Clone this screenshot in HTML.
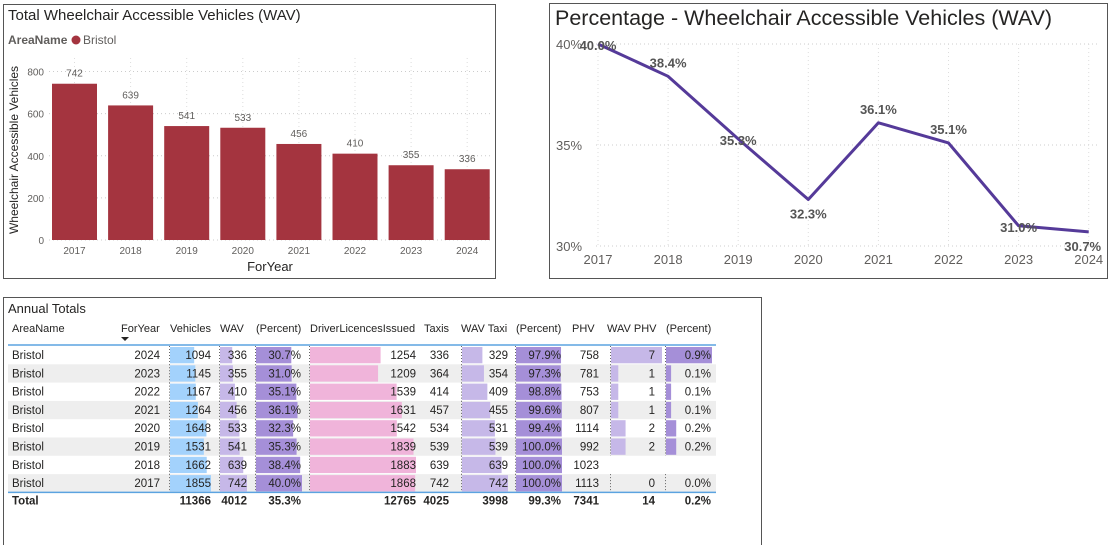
<!DOCTYPE html>
<html><head><meta charset="utf-8"><style>
html,body{margin:0;padding:0;background:#fff;}
svg{display:block;font-family:"Liberation Sans",sans-serif;}
</style></head><body>
<svg id="s" width="1111" height="545" viewBox="0 0 1111 545">
<rect x="3.5" y="4.5" width="492" height="274" fill="#fff" stroke="#555"/>
<text x="8" y="20" font-size="15" fill="#252423">Total Wheelchair Accessible Vehicles (WAV)</text>
<text x="8" y="44" font-size="12" font-weight="bold" fill="#605e5c">AreaName</text>
<circle cx="76" cy="40" r="4.5" fill="#a4343f"/>
<text x="83" y="44" font-size="12" fill="#605e5c">Bristol</text>
<text transform="translate(18,150) rotate(-90)" text-anchor="middle" font-size="12" fill="#252423">Wheelchair Accessible Vehicles</text>
<text x="270" y="271" text-anchor="middle" font-size="13" fill="#252423">ForYear</text>
<g id="bars"></g>
<rect x="549.5" y="3.5" width="558" height="275" fill="none" stroke="#555"/>
<text x="555" y="25" font-size="21.5" fill="#252423">Percentage - Wheelchair Accessible Vehicles (WAV)</text>
<g id="line"></g>
<rect x="3.5" y="297.5" width="758" height="260" fill="none" stroke="#555"/>
<text x="8" y="313" font-size="13" fill="#252423">Annual Totals</text>
<g id="table"></g>
</svg>
<script>
const NS="http://www.w3.org/2000/svg";
function mk(p,t,a,txt){const e=document.createElementNS(NS,t);for(const k in a)e.setAttribute(k,a[k]);if(txt!=null)e.textContent=txt;p.appendChild(e);return e;}
// ---- bar chart data
const years=["2017","2018","2019","2020","2021","2022","2023","2024"];
const wavTotals=[742,639,541,533,456,410,355,336];
const barTicks=[0,200,400,600,800];
const bg=document.getElementById('bars');
const by=v=>240-v*0.2106, bx=i=>74.5+i*56.1;
barTicks.forEach(t=>{
 const g=mk(bg,'line',{x1:49,x2:493,y1:by(t),y2:by(t),stroke:'#ccc','stroke-dasharray':'1 3'});
 
 
 const l=mk(bg,'text',{x:44,y:by(t)+4,'text-anchor':'end','font-size':10,fill:'#605e5c'},t);
 
 
});
years.forEach((y,i)=>{
 const gl=mk(bg,'line',{x1:bx(i),x2:bx(i),y1:58,y2:240,stroke:'#ddd','stroke-dasharray':'1 3'});
 
 
 const r=mk(bg,'rect',{x:bx(i)-22.5,y:by(wavTotals[i]),width:45,height:240-by(wavTotals[i]),fill:'#a4343f'});
 
 
 const v=mk(bg,'text',{x:bx(i),y:by(wavTotals[i])-7,'text-anchor':'middle','font-size':10,fill:'#605e5c'},wavTotals[i]);
 
 
 const xl=mk(bg,'text',{x:bx(i),y:254,'text-anchor':'middle','font-size':10,fill:'#605e5c'},y);
 
 
});
// ---- line chart data
const pctValues=[40.0,38.4,35.3,32.3,36.1,35.1,31.0,30.7];
const pctLabels=["40.0%","38.4%","35.3%","32.3%","36.1%","35.1%","31.0%","30.7%"];
const labelPos=["c","a","c","b","a","a","c","b"];
const pctTicks=[40,35,30];
const lg=document.getElementById('line');
const ly=v=>44+(40-v)*20.2, lx=i=>598+i*70.1;
pctTicks.forEach(t=>{
 const g=mk(lg,'line',{x1:596,x2:1100,y1:ly(t),y2:ly(t),stroke:'#ccc','stroke-dasharray':'1 3'});
 
 
 const l=mk(lg,'text',{x:556,y:ly(t)+5,'font-size':13,fill:'#605e5c'},t+'%');
 
 
});
years.forEach((y,i)=>{
 const g=mk(lg,'line',{x1:lx(i),x2:lx(i),y1:44,y2:248,stroke:'#ddd','stroke-dasharray':'1 3'});
 
 
 const xl=mk(lg,'text',{x:lx(i),y:264,'text-anchor':'middle','font-size':13,fill:'#605e5c'},y);
 
 
});
const pl=mk(lg,'polyline',{points:pctValues.map((v,i)=>lx(i)+','+ly(v)).join(' '),fill:'none',stroke:'#553a99','stroke-width':3,'stroke-linejoin':'round'});


pctValues.forEach((v,i)=>{
 const off=labelPos[i]==='a'?-9:labelPos[i]==='b'?19:6;
 const t=mk(lg,'text',{x:lx(i)+(i==7?-6:0),y:ly(v)+off,'text-anchor':'middle','font-size':13,'font-weight':'bold',fill:'#555'},pctLabels[i]);
 
 
});
// ---- table data
const tYears=[2024,2023,2022,2021,2020,2019,2018,2017];
const vehicles=[1094,1145,1167,1264,1648,1531,1662,1855];
const wav=[336,355,410,456,533,541,639,742];
const wavPct=[30.7,31.0,35.1,36.1,32.3,35.3,38.4,40.0];
const licences=[1254,1209,1539,1631,1542,1839,1883,1868];
const taxis=[336,364,414,457,534,539,639,742];
const wavTaxi=[329,354,409,455,531,539,639,742];
const taxiPct=[97.9,97.3,98.8,99.6,99.4,100.0,100.0,100.0];
const phv=[758,781,753,807,1114,992,1023,1113];
const wavPhv=[7,1,1,1,2,2,null,0];
const phvPct=[0.9,0.1,0.1,0.1,0.2,0.2,null,0.0];
const totals=["Total","","11366","4012","35.3%","12765","4025","3998","99.3%","7341","14","0.2%"];
const headers=["AreaName","ForYear","Vehicles","WAV","(Percent)","DriverLicencesIssued","Taxis","WAV Taxi","(Percent)","PHV","WAV PHV","(Percent)"];
const tg=document.getElementById('table');
const cols=[
 {x:12,a:'start',hx:12},
 {x:160,a:'end',hx:121},
 {x:211,a:'end',hx:170,b:170,w:41,m:1855,c:'#a3d2fc',d:vehicles},
 {x:247,a:'end',hx:220,b:220,w:27,m:742,c:'#c6b8e8',d:wav},
 {x:301,a:'end',hx:256,b:256,w:46,m:40,c:'#a58fd8',d:wavPct,p:1},
 {x:416,a:'end',hx:310,b:310,w:106,m:1883,c:'#f0b4da',d:licences},
 {x:449,a:'end',hx:424,d:taxis},
 {x:508,a:'end',hx:461,b:462,w:46,m:742,c:'#c6b8e8',d:wavTaxi},
 {x:561,a:'end',hx:516,b:516,w:46,m:100,c:'#a58fd8',d:taxiPct,p:1},
 {x:599,a:'end',hx:572,d:phv},
 {x:655,a:'end',hx:607,b:611,w:51,m:7,c:'#c6b8e8',d:wavPhv},
 {x:711,a:'end',hx:666,b:666,w:46,m:0.9,c:'#a58fd8',d:phvPct,p:1}
];
headers.forEach((h,j)=>{
 const t=mk(tg,'text',{x:cols[j].hx,y:332,'font-size':11,fill:'#252423'},h);
 
 
});
mk(tg,'path',{d:'M121 337 h8 l-4 4z',fill:'#252423'});
const RH=18.3, R0=346;
tYears.forEach((yr,i)=>{
 const top=R0+i*RH;
 if(i%2===1){const bgr=mk(tg,'rect',{x:8,y:top,width:708,height:RH,fill:'#eeeeee'});
  
  }
 cols.forEach((c,j)=>{
  let val;
  if(j===0) val='Bristol'; else if(j===1) val=yr; else val=c.d[i];
  if(c.b!==undefined && val!=null){
   const bw=Math.max(0,val/c.m*c.w);
   const r=mk(tg,'rect',{x:c.b,y:top+1,width:bw,height:RH-2,fill:c.c});
   
   
   mk(tg,'line',{x1:c.b-0.5,x2:c.b-0.5,y1:top,y2:top+RH,stroke:'#444','stroke-dasharray':'1 2','stroke-width':0.8});
  }
  if(val==null) return;
  const s=c.p?val.toFixed(1)+'%':String(val);
  const t=mk(tg,'text',{x:c.x,y:top+13,'text-anchor':c.a,'font-size':11.5,fill:'#252423'},s);
  
  
 });
});
const hl=mk(tg,'line',{x1:8,x2:716,y1:345,y2:345,stroke:'#5ba3e0','stroke-width':1.5});


const fl=mk(tg,'line',{x1:8,x2:716,y1:R0+8*RH,y2:R0+8*RH,stroke:'#5ba3e0','stroke-width':1.5});


totals.forEach((v,j)=>{
 if(!v) return;
 const t=mk(tg,'text',{x:cols[j].x,y:R0+8*RH+12,'text-anchor':cols[j].a,'font-size':11.5,'font-weight':'bold',fill:'#252423'},v);
 
 
});
</script>
</body></html>
